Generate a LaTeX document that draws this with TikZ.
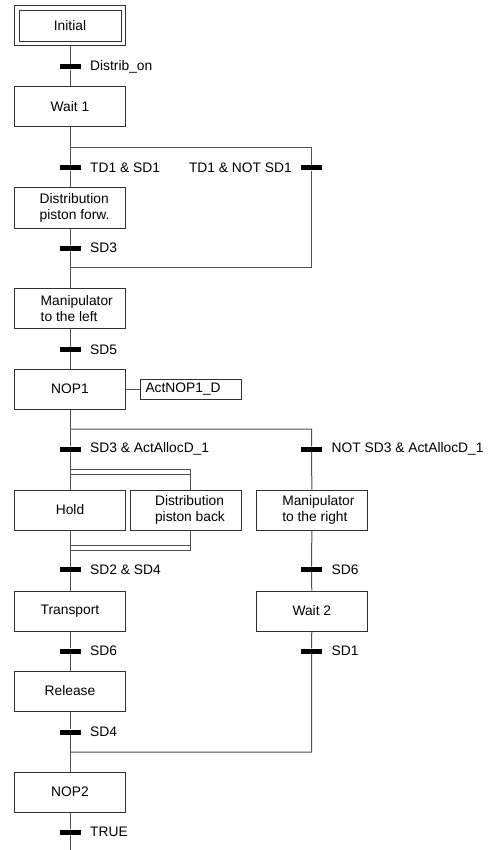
\documentclass[tikz,border=0pt]{standalone}
\usepackage{fontspec}
\setmainfont{Liberation Sans}
\definecolor{lc}{HTML}{505050}
\definecolor{bc}{HTML}{303030}
\begin{document}
\begin{tikzpicture}[x=1pt,y=-1pt,
  font=\fontsize{13.8}{16}\selectfont,
  ln/.style={draw=lc, line width=1pt},
  stepbox/.style={draw=bc, line width=1pt, minimum width=111pt, minimum height=40pt, align=center, inner sep=0pt},
  mtext/.style={anchor=west, align=left, inner sep=0pt},
  actbox/.style={draw=bc, line width=1pt, anchor=west, minimum height=20pt, text width=91pt, inner xsep=5pt, inner ysep=0pt, align=left},
  trbar/.style={fill=black, minimum width=21pt, minimum height=5pt, inner sep=0pt},
  tlab/.style={anchor=west, inner sep=0pt},
  tlabl/.style={anchor=east, inner sep=0pt},
]
\useasboundingbox (0,0) rectangle (495,850);

% steps
\node[stepbox] (init) at (70,26) {Initial};
\draw[bc, line width=1pt] ([shift={(5,5)}]init.north west) rectangle ([shift={(-5,-5)}]init.south east);
\node[stepbox] (wait1) at (70,107) {Wait 1};
\node[stepbox] (dpf) at (70,208) {};
\node[mtext] (dpft) at ([xshift=25.5pt]dpf.west) {Distribution\\piston forw.};
\node[stepbox] (mleft) at (70,308.3) {};
\node[mtext] (mleftt) at ([xshift=26.5pt]mleft.west) {Manipulator\\to the left};
\node[stepbox] (nop1) at (70,389) {NOP1};
\node[actbox] (act) at (140,389) {ActNOP1\_D};
\node[stepbox] (hold) at (70,510) {Hold};
\node[stepbox, minimum width=110.7pt] (dpb) at (185.7,510) {};
\node[mtext] (dpbt) at ([xshift=25pt]dpb.west) {Distribution\\piston back};
\node[stepbox] (mright) at (311.8,510) {};
\node[mtext] (mrightt) at ([xshift=26.3pt]mright.west) {Manipulator\\to the right};
\node[stepbox] (transport) at (70,611) {Transport};
\node[stepbox] (wait2) at (311.8,611) {Wait 2};
\node[stepbox] (release) at (70,691) {Release};
\node[stepbox] (nop2) at (70,792) {NOP2};

% coordinates
\coordinate (dA) at (70,147.3);
\coordinate (dB) at (311.7,147.3);
\coordinate (dC) at (311.7,267.3);
\coordinate (dD) at (70,267.3);
\coordinate (eA) at (70,429);
\coordinate (eB) at (311.7,429);
\coordinate (s1l) at (70,469.7);
\coordinate (s1r) at (190.7,469.7);
\coordinate (s2l) at (70,474.7);
\coordinate (s2r) at (190.7,474.7);
\coordinate (b1l) at (70,545.3);
\coordinate (b1r) at (190.7,545.3);
\coordinate (b2l) at (70,550.3);
\coordinate (b2r) at (190.7,550.3);
\coordinate (cA) at (70,752);
\coordinate (cB) at (311.7,752);
\coordinate (endc) at (70,850);

% transitions
\node[trbar] (t0) at (70,67) {};
\node[trbar] (tA) at (70,168) {};
\node[trbar] (tB) at (311.7,168) {};
\node[trbar] (t3) at (70,248) {};
\node[trbar] (t5) at (70,349.3) {};
\node[trbar] (tC) at (70,449) {};
\node[trbar] (tD) at (311.7,449) {};
\node[trbar] (tE) at (70,569.3) {};
\node[trbar] (tF) at (311.7,569.3) {};
\node[trbar] (tG) at (70,651) {};
\node[trbar] (tH) at (311.7,651) {};
\node[trbar] (tI) at (70,732) {};
\node[trbar] (tJ) at (70,832) {};

% labels
\node[tlab] (l0) at (90,67) {Distrib\_on};
\node[tlab] (lA) at (90,168) {TD1 \& SD1};
\node[tlabl] (lB) at (292,168) {TD1 \& NOT SD1};
\node[tlab] (l3) at (90,248) {SD3};
\node[tlab] (l5) at (90,349.3) {SD5};
\node[tlab] (lC) at (90,449) {SD3 \& ActAllocD\_1};
\node[tlab] (lD) at (331.5,449) {NOT SD3 \& ActAllocD\_1};
\node[tlab] (lE) at (90,569.3) {SD2 \& SD4};
\node[tlab] (lF) at (331.5,569.3) {SD6};
\node[tlab] (lG) at (90,651) {SD6};
\node[tlab] (lH) at (331.5,651) {SD1};
\node[tlab] (lI) at (90,732) {SD4};
\node[tlab] (lJ) at (90,832) {TRUE};

% connectors
\draw[ln] (init) -- (t0) -- (wait1);
\draw[ln] (wait1) -- (tA) -- (dpf);
\draw[ln] (dA) -- (dB) -- (tB) -- (dC) -- (dD);
\draw[ln] (dpf) -- (t3) -- (mleft);
\draw[ln] (mleft) -- (t5) -- (nop1);
\draw[ln] (nop1.east) -- (act.west);
\draw[ln] (nop1) -- (tC) -- (hold);
\draw[ln] (eA) -- (eB) -- (tD) -- (mright);
\draw[ln] (s1l) -- (s1r) -- (s1r |- dpb.north);
\draw[ln] (s2l) -- (s2r);
\draw[ln] (b2r |- dpb.south) -- (b2r) -- (b2l);
\draw[ln] (b1l) -- (b1r);
\draw[ln] (hold) -- (tE) -- (transport);
\draw[ln] (mright) -- (tF) -- (wait2);
\draw[ln] (transport) -- (tG) -- (release);
\draw[ln] (wait2) -- (tH) -- (cB) -- (cA);
\draw[ln] (release) -- (tI) -- (nop2);
\draw[ln] (nop2) -- (tJ) -- (endc);
\end{tikzpicture}
\end{document}
